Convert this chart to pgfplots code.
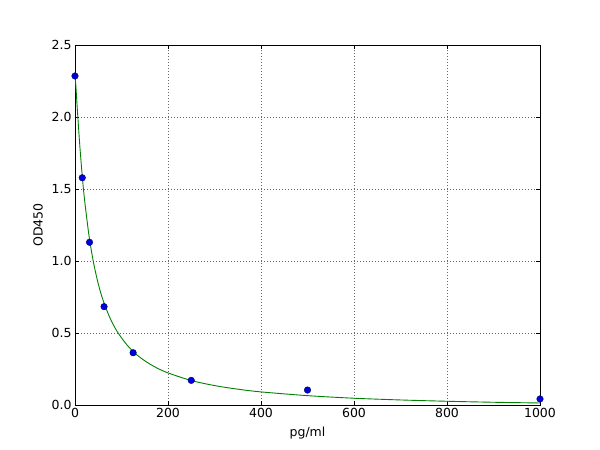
\documentclass[border=0pt]{standalone}
\usepackage{pgfplots}
\pgfplotsset{compat=1.18}
\usepackage{fontspec}
\setmainfont{DejaVu Sans}

\definecolor{mplgreen}{RGB}{0,128,0}
\definecolor{mplblue}{RGB}{0,0,220}

\begin{document}
\begin{tikzpicture}
\useasboundingbox (-75pt,-45pt) rectangle (525pt,405pt);
\begin{axis}[
at={(0pt,0pt)}, anchor=south west,
scale only axis,
width=465pt, height=360pt,
xmin=0, xmax=1000,
ymin=0, ymax=2.5,
xtick={0,200,400,600,800,1000},
ytick={0,0.5,1,1.5,2,2.5},
xticklabel style={/pgf/number format/set thousands separator={}},
yticklabel style={/pgf/number format/fixed,/pgf/number format/fixed zerofill,/pgf/number format/precision=1},
/pgf/number format/assume math mode=true,
tick align=inside,
tick pos=both,
major tick length=4pt,
tick style={black, line width=0.6pt},
grid=major,
grid style={black!60, dash pattern=on 1pt off 2pt, line width=0.5pt},
axis line style={black, line width=0.8pt},
tick label style={font=\fontsize{12.5}{14}\selectfont},
label style={font=\fontsize{12.5}{14}\selectfont},
xlabel={pg/ml},
ylabel={OD450},
xlabel style={yshift=-2pt},
ylabel style={yshift=2pt},
clip=false,
]
\addplot[mplgreen, line width=0.9pt, smooth, tension=0.5] table {
0 2.300
2 2.208
5 2.054
10 1.816
15 1.613
20 1.442
30 1.178
40 0.986
50 0.842
60 0.731
75 0.606
90 0.514
110 0.424
130 0.357
150 0.307
175 0.259
200 0.223
250 0.170
300 0.135
350 0.110
400 0.091
500 0.065
600 0.047
700 0.035
800 0.026
900 0.019
1000 0.014
};
\addplot[only marks, mark=*, mark size=3.3pt, mark options={fill=mplblue, draw=blue!40!black, line width=0.4pt}] table {
0 2.285
15.625 1.578
31.25 1.130
62.5 0.683
125 0.363
250 0.171
500 0.104
1000 0.042
};
\end{axis}
\end{tikzpicture}
\end{document}
